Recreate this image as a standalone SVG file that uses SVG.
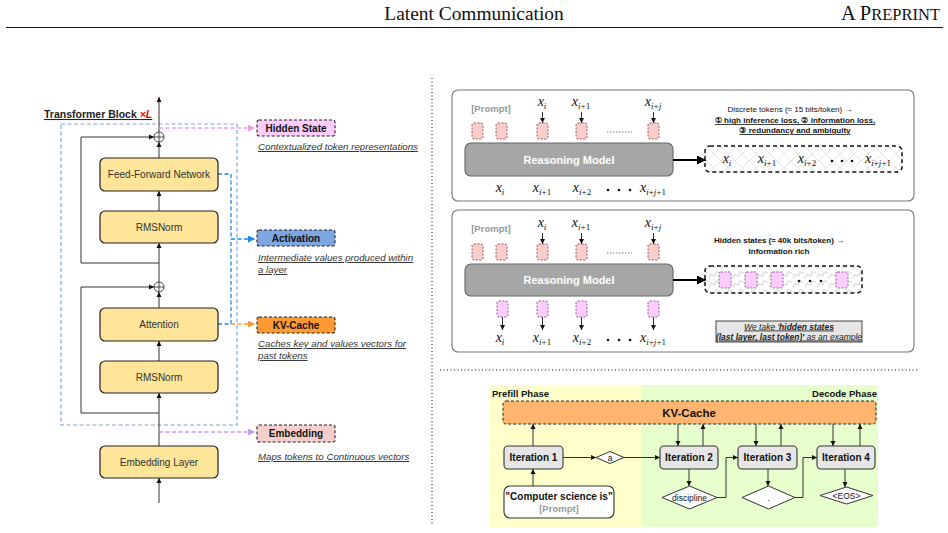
<svg xmlns="http://www.w3.org/2000/svg" width="948" height="533" viewBox="0 0 948 533">
<defs>
<style>
.t{font-family:"Liberation Sans",Arial,sans-serif;}
.b{font-weight:bold;}
.node{fill:#FFE599;stroke:#222;stroke-width:1.2;}
.lbl{font-family:"Liberation Sans",Arial,sans-serif;font-size:10px;fill:#333;text-anchor:middle;}
.tag{stroke:#222;stroke-width:1.1;stroke-dasharray:3 2;}
.tagt{font-family:"Liberation Sans",Arial,sans-serif;font-size:10px;font-weight:bold;fill:#111;text-anchor:middle;}
.desc{font-family:"Liberation Sans",Arial,sans-serif;font-size:9.7px;font-style:italic;fill:#333;text-decoration:underline;}
.ln{fill:none;stroke:#333;stroke-width:1;}
.m{font-family:"Liberation Serif","Times New Roman",serif;font-style:italic;font-size:14px;fill:#111;text-anchor:middle;}
.s{font-size:9px;}
.u{font-style:normal;}
.slot{fill:#F8CECC;stroke:#7a3b38;stroke-width:0.8;stroke-dasharray:2 1.5;}
.hslot{fill:#FFCCFF;stroke:#6b4a6b;stroke-width:0.8;stroke-dasharray:2 1.5;}
.panel{fill:#fff;stroke:#777;stroke-width:1.1;}
.rm{fill:#A6A6A6;stroke:#666;stroke-width:1.1;}
.rmt{font-family:"Liberation Sans",Arial,sans-serif;font-size:11px;font-weight:bold;fill:#fff;text-anchor:middle;}
.it{fill:#E6E6E6;stroke:#333;stroke-width:1.1;}
.itt{font-family:"Liberation Sans",Arial,sans-serif;font-size:10px;font-weight:bold;fill:#111;text-anchor:middle;}
.dia{fill:#fff;stroke:#333;stroke-width:1;}
.dt{font-family:"Liberation Sans",Arial,sans-serif;font-size:8.5px;fill:#111;text-anchor:middle;}
.sep{stroke:#000;stroke-width:1;stroke-dasharray:1 2.5;fill:none;}
</style>
<marker id="ab" markerWidth="6" markerHeight="6" refX="5" refY="3" orient="auto" markerUnits="userSpaceOnUse"><path d="M0,0.5 L5,3 L0,5.5 z" fill="#111"/></marker>
<marker id="abig" markerWidth="10" markerHeight="10" refX="9" refY="4.5" orient="auto" markerUnits="userSpaceOnUse"><path d="M0,0 L9,4.5 L0,9 z" fill="#000"/></marker>
<marker id="apink" markerWidth="8" markerHeight="8" refX="7" refY="3.5" orient="auto" markerUnits="userSpaceOnUse"><path d="M0,0 L7,3.5 L0,7 z" fill="#F39AF3"/></marker>
<marker id="ablue" markerWidth="8" markerHeight="8" refX="7" refY="3.5" orient="auto" markerUnits="userSpaceOnUse"><path d="M0,0 L7,3.5 L0,7 z" fill="#1E88F0"/></marker>
<marker id="aorange" markerWidth="8" markerHeight="8" refX="7" refY="3.5" orient="auto" markerUnits="userSpaceOnUse"><path d="M0,0 L7,3.5 L0,7 z" fill="#FF9933"/></marker>
<marker id="apurple" markerWidth="8" markerHeight="8" refX="7" refY="3.5" orient="auto" markerUnits="userSpaceOnUse"><path d="M0,0 L7,3.5 L0,7 z" fill="#C49BF0"/></marker>
<pattern id="hatch" width="14" height="14" patternUnits="userSpaceOnUse"><path d="M0,0 L14,14 M14,0 L0,14" stroke="#e4e4e4" stroke-width="1"/></pattern>
<pattern id="zig" width="12" height="9" patternUnits="userSpaceOnUse"><path d="M0,6 L3,3 L6,6 L9,3 L12,6" fill="none" stroke="#e2e2e2" stroke-width="1.6" transform="rotate(-25 6 4.5)"/></pattern>
</defs>
<rect width="948" height="533" fill="#fff"/>

<!-- header -->
<g id="header">
<text x="474" y="20" text-anchor="middle" font-family="Liberation Serif,'Times New Roman',serif" font-size="19.4" fill="#111">Latent Communication</text>
<text x="940" y="20" text-anchor="end" font-family="Liberation Serif,'Times New Roman',serif" font-size="20.5" fill="#111">A P<tspan font-size="16.5">REPRINT</tspan></text>
<line x1="6" y1="27.5" x2="943" y2="27.5" stroke="#111" stroke-width="1"/>
</g>

<!-- separators -->
<line class="sep" x1="432" y1="78" x2="432" y2="525"/>
<line class="sep" x1="440" y1="370" x2="918" y2="370"/>

<!-- LEFT: transformer -->
<g id="transformer-block">
<rect x="61" y="124" width="176" height="301" fill="none" stroke="#7EA6E0" stroke-width="1.2" stroke-dasharray="4 2.5"/>
<text x="44" y="118" class="t b" font-size="10.5" fill="#222" text-decoration="underline">Transformer Block <tspan fill="#FF0000" font-style="italic">×L</tspan></text>
</g>

<g id="left-connectors">
<line class="ln" x1="159" y1="503" x2="159" y2="478" marker-end="url(#ab)"/>
<line class="ln" x1="159" y1="446" x2="159" y2="393" marker-end="url(#ab)"/>
<line class="ln" x1="159" y1="361" x2="159" y2="341" marker-end="url(#ab)"/>
<line class="ln" x1="159" y1="308" x2="159" y2="292" marker-end="url(#ab)"/>
<line class="ln" x1="159" y1="282" x2="159" y2="243" marker-end="url(#ab)"/>
<line class="ln" x1="159" y1="211" x2="159" y2="191" marker-end="url(#ab)"/>
<line class="ln" x1="159" y1="158" x2="159" y2="142" marker-end="url(#ab)"/>
<line class="ln" x1="159" y1="132" x2="159" y2="97" marker-end="url(#ab)"/>
<polyline class="ln" points="159,263 81,263 81,137 154,137" marker-end="url(#ab)"/>
<polyline class="ln" points="159,413 81,413 81,287 154,287" marker-end="url(#ab)"/>
<path d="M159,128 H255" fill="none" stroke="#F39AF3" stroke-width="1.3" stroke-dasharray="4 2.5" marker-end="url(#apink)"/>
<path d="M218,174 H231 V239 H255" fill="none" stroke="#1E88F0" stroke-width="1.3" stroke-dasharray="4 2.5" marker-end="url(#ablue)"/>
<path d="M218,324 H231 V239" fill="none" stroke="#1E88F0" stroke-width="1.3" stroke-dasharray="4 2.5"/>
<path d="M231,324 H255" fill="none" stroke="#FF9933" stroke-width="1.3" stroke-dasharray="4 2.5" marker-end="url(#aorange)"/>
<path d="M159,432 H255" fill="none" stroke="#C49BF0" stroke-width="1.3" stroke-dasharray="4 2.5" marker-end="url(#apurple)"/>
</g>

<g id="plus1"><circle cx="159" cy="137" r="5" fill="#fff" stroke="#333" stroke-width="0.9"/><path d="M154,137 H164 M159,132 V142" stroke="#333" stroke-width="0.9"/></g>
<g id="plus2"><circle cx="159" cy="287" r="5" fill="#fff" stroke="#333" stroke-width="0.9"/><path d="M154,287 H164 M159,282 V292" stroke="#333" stroke-width="0.9"/></g>

<g id="ffn"><rect class="node" x="100" y="158" width="118" height="33" rx="5"/><text class="lbl" x="159" y="178">Feed-Forward Network</text></g>
<g id="rmsnorm1"><rect class="node" x="100" y="211" width="118" height="32" rx="5"/><text class="lbl" x="159" y="231">RMSNorm</text></g>
<g id="attention"><rect class="node" x="100" y="308" width="118" height="33" rx="5"/><text class="lbl" x="159" y="328">Attention</text></g>
<g id="rmsnorm2"><rect class="node" x="100" y="361" width="118" height="32" rx="5"/><text class="lbl" x="159" y="381">RMSNorm</text></g>
<g id="embedding-layer"><rect class="node" x="100" y="446" width="118" height="32" rx="5"/><text class="lbl" x="159" y="466">Embedding Layer</text></g>

<g id="hidden-state"><rect class="tag" x="257" y="120" width="78" height="16" rx="2" fill="#FFCCFF"/><text class="tagt" x="296" y="132">Hidden State</text>
<text class="desc" x="258" y="150">Contextualized token representations</text></g>
<g id="activation"><rect class="tag" x="257" y="230" width="78" height="16" rx="2" fill="#7EA6E0"/><text class="tagt" x="296" y="242">Activation</text>
<text class="desc" x="258" y="261">Intermediate values produced within</text><text class="desc" x="258" y="273">a layer</text></g>
<g id="kv-cache"><rect class="tag" x="257" y="317" width="78" height="16" rx="2" fill="#FF9933"/><text class="tagt" x="296" y="329">KV-Cache</text>
<text class="desc" x="258" y="347">Caches key and values vectors for</text><text class="desc" x="258" y="359">past tokens</text></g>
<g id="embedding"><rect class="tag" x="257" y="425" width="78" height="17" rx="2" fill="#F8CECC"/><text class="tagt" x="296" y="437">Embedding</text>
<text class="desc" x="258" y="460">Maps tokens to Continuous vectors</text></g>

<!-- PANEL 1 -->
<g id="panel-discrete">
<rect class="panel" x="452" y="90" width="462" height="111" rx="6"/>
<text x="491" y="112" class="t b" font-size="9.5" fill="#999" text-anchor="middle">[Prompt]</text>
<rect class="slot" x="472" y="123" width="11" height="16" rx="2"/>
<rect class="slot" x="496" y="123" width="11" height="16" rx="2"/>
<rect class="slot" x="537" y="123" width="11" height="16" rx="2"/>
<rect class="slot" x="576" y="123" width="11" height="16" rx="2"/>
<rect class="slot" x="648" y="123" width="11" height="16" rx="2"/>
<line x1="607" y1="132" x2="632" y2="132" stroke="#555" stroke-width="0.8" stroke-dasharray="1.5 1.5"/>
<text class="m" x="542" y="106">x<tspan class="s" dy="3">i</tspan></text>
<text class="m" x="581" y="106">x<tspan class="s" dy="3">i<tspan class="u">+1</tspan></tspan></text>
<text class="m" x="653" y="106">x<tspan class="s" dy="3">i<tspan class="u">+</tspan>j</tspan></text>
<line class="ln" x1="542.5" y1="112" x2="542.5" y2="123" marker-end="url(#ab)"/>
<line class="ln" x1="581.5" y1="112" x2="581.5" y2="123" marker-end="url(#ab)"/>
<line class="ln" x1="653.5" y1="112" x2="653.5" y2="123" marker-end="url(#ab)"/>
<rect class="rm" x="465" y="143" width="208" height="33" rx="6"/>
<text class="rmt" x="569" y="164">Reasoning Model</text>
<text class="m" x="500" y="192">x<tspan class="s" dy="3">i</tspan></text>
<text class="m" x="542" y="192">x<tspan class="s" dy="3">i<tspan class="u">+1</tspan></tspan></text>
<text class="m" x="582" y="192">x<tspan class="s" dy="3">i<tspan class="u">+2</tspan></tspan></text>
<g fill="#111"><circle cx="608" cy="190" r="1.3"/><circle cx="619" cy="190" r="1.3"/><circle cx="630" cy="190" r="1.3"/></g>
<text class="m" x="653" y="192">x<tspan class="s" dy="3">i<tspan class="u">+</tspan>j<tspan class="u">+1</tspan></tspan></text>
<line x1="673" y1="160" x2="706" y2="160" stroke="#000" stroke-width="2" marker-end="url(#abig)"/>
<rect x="705" y="146" width="197" height="26" rx="5" fill="url(#hatch)" stroke="#111" stroke-width="1.5" stroke-dasharray="4 3"/>
<text class="m" x="727" y="163">x<tspan class="s" dy="3">i</tspan></text>
<text class="m" x="767" y="163">x<tspan class="s" dy="3">i<tspan class="u">+1</tspan></tspan></text>
<text class="m" x="807" y="163">x<tspan class="s" dy="3">i<tspan class="u">+2</tspan></tspan></text>
<g fill="#111"><circle cx="832" cy="161" r="1.3"/><circle cx="842" cy="161" r="1.3"/><circle cx="852" cy="161" r="1.3"/></g>
<text class="m" x="878" y="163">x<tspan class="s" dy="3">i<tspan class="u">+</tspan>j<tspan class="u">+1</tspan></tspan></text>
<text x="790" y="112" class="t" font-size="8" fill="#111" text-anchor="middle">Discrete tokens (≈ 15 bits/token) →</text>
<text x="795" y="123" class="t b" font-size="8" fill="#111" text-anchor="middle" text-decoration="underline">① high inference loss, ② information loss,</text>
<text x="795" y="133" class="t b" font-size="8" fill="#111" text-anchor="middle" text-decoration="underline">③ redundancy and ambiguity</text>
</g>

<!-- PANEL 2 -->
<g id="panel-hidden">
<rect class="panel" x="452" y="210" width="462" height="142" rx="6"/>
<text x="491" y="232" class="t b" font-size="9.5" fill="#999" text-anchor="middle">[Prompt]</text>
<rect class="slot" x="472" y="244" width="11" height="16" rx="2"/>
<rect class="slot" x="496" y="244" width="11" height="16" rx="2"/>
<rect class="slot" x="537" y="244" width="11" height="16" rx="2"/>
<rect class="slot" x="576" y="244" width="11" height="16" rx="2"/>
<rect class="slot" x="648" y="244" width="11" height="16" rx="2"/>
<line x1="607" y1="253" x2="632" y2="253" stroke="#555" stroke-width="0.8" stroke-dasharray="1.5 1.5"/>
<text class="m" x="542" y="227">x<tspan class="s" dy="3">i</tspan></text>
<text class="m" x="581" y="227">x<tspan class="s" dy="3">i<tspan class="u">+1</tspan></tspan></text>
<text class="m" x="653" y="227">x<tspan class="s" dy="3">i<tspan class="u">+</tspan>j</tspan></text>
<line class="ln" x1="542.5" y1="233" x2="542.5" y2="244" marker-end="url(#ab)"/>
<line class="ln" x1="581.5" y1="233" x2="581.5" y2="244" marker-end="url(#ab)"/>
<line class="ln" x1="653.5" y1="233" x2="653.5" y2="244" marker-end="url(#ab)"/>
<rect class="rm" x="465" y="264" width="208" height="32" rx="6"/>
<text class="rmt" x="569" y="284">Reasoning Model</text>
<rect class="hslot" x="497" y="301" width="11" height="16" rx="2"/>
<rect class="hslot" x="537" y="301" width="11" height="16" rx="2"/>
<rect class="hslot" x="576" y="301" width="11" height="16" rx="2"/>
<rect class="hslot" x="648" y="301" width="11" height="16" rx="2"/>
<line class="ln" x1="502.5" y1="317" x2="502.5" y2="330" marker-end="url(#ab)"/>
<line class="ln" x1="542.5" y1="317" x2="542.5" y2="330" marker-end="url(#ab)"/>
<line class="ln" x1="581.5" y1="317" x2="581.5" y2="330" marker-end="url(#ab)"/>
<line class="ln" x1="653.5" y1="317" x2="653.5" y2="330" marker-end="url(#ab)"/>
<text class="m" x="500" y="342">x<tspan class="s" dy="3">i</tspan></text>
<text class="m" x="542" y="342">x<tspan class="s" dy="3">i<tspan class="u">+1</tspan></tspan></text>
<text class="m" x="582" y="342">x<tspan class="s" dy="3">i<tspan class="u">+2</tspan></tspan></text>
<g fill="#111"><circle cx="608" cy="340" r="1.3"/><circle cx="619" cy="340" r="1.3"/><circle cx="630" cy="340" r="1.3"/></g>
<text class="m" x="653" y="342">x<tspan class="s" dy="3">i<tspan class="u">+</tspan>j<tspan class="u">+1</tspan></tspan></text>
<line x1="673" y1="280" x2="706" y2="280" stroke="#000" stroke-width="2" marker-end="url(#abig)"/>
<rect x="705" y="266" width="157" height="27" rx="5" fill="url(#zig)" stroke="#111" stroke-width="1.5" stroke-dasharray="4 3"/>
<rect class="hslot" x="719" y="272" width="12" height="16" rx="2"/>
<rect class="hslot" x="745" y="272" width="12" height="16" rx="2"/>
<rect class="hslot" x="771" y="272" width="12" height="16" rx="2"/>
<rect class="hslot" x="836" y="272" width="12" height="16" rx="2"/>
<g fill="#111"><circle cx="799" cy="281" r="1.3"/><circle cx="810" cy="281" r="1.3"/><circle cx="821" cy="281" r="1.3"/></g>
<text x="779" y="243" class="t b" font-size="8" fill="#111" text-anchor="middle">Hidden states (≈ 40k bits/token) →</text>
<text x="779" y="254" class="t b" font-size="8" fill="#111" text-anchor="middle">Information rich</text>
<rect x="716" y="321" width="146" height="21" fill="#E6E6E6" stroke="#333" stroke-width="0.9"/>
<text x="789" y="329.5" class="t" font-size="8.5" font-style="italic" fill="#222" text-anchor="middle" text-decoration="underline">We take '<tspan font-weight="bold">hidden states</tspan></text>
<text x="789" y="339.5" class="t" font-size="8.5" font-style="italic" fill="#222" text-anchor="middle" text-decoration="underline"><tspan font-weight="bold">(last layer, last token)'</tspan> as an example</text>
</g>

<!-- BOTTOM: KV cache panel -->
<g id="kv-panel">
<rect x="490" y="385" width="151" height="142" fill="#FFFFCC"/>
<rect x="641" y="385" width="237" height="142" fill="#E6FFCC"/>
<text x="492" y="397" class="t b" font-size="9.5" fill="#111">Prefill Phase</text>
<text x="877" y="397" class="t b" font-size="9.5" fill="#111" text-anchor="end">Decode Phase</text>
</g>
<g id="kv-cache-bar"><rect x="503" y="401" width="373" height="23" rx="3" fill="#FFB570" stroke="#222" stroke-width="1" stroke-dasharray="3 2"/><text x="689" y="417" class="t b" font-size="11.5" fill="#111" text-anchor="middle">KV-Cache</text></g>

<g id="kv-connectors">
<line class="ln" x1="533" y1="486" x2="533" y2="469" marker-end="url(#ab)"/>
<line class="ln" x1="533" y1="446" x2="533" y2="424" marker-end="url(#ab)"/>
<line class="ln" x1="563" y1="457.5" x2="596" y2="457.5" marker-end="url(#ab)"/>
<line class="ln" x1="624" y1="457.5" x2="660" y2="457.5" marker-end="url(#ab)"/>
<line class="ln" x1="678" y1="424" x2="678" y2="446" marker-end="url(#ab)"/>
<line class="ln" x1="703" y1="446" x2="703" y2="424" marker-end="url(#ab)"/>
<line class="ln" x1="689" y1="469" x2="689" y2="486" marker-end="url(#ab)"/>
<polyline class="ln" points="717,497.5 726,497.5 726,457.5 738,457.5" marker-end="url(#ab)"/>
<line class="ln" x1="756" y1="424" x2="756" y2="446" marker-end="url(#ab)"/>
<line class="ln" x1="781" y1="446" x2="781" y2="424" marker-end="url(#ab)"/>
<line class="ln" x1="768" y1="469" x2="768" y2="486" marker-end="url(#ab)"/>
<polyline class="ln" points="795,497.5 803,497.5 803,457.5 817,457.5" marker-end="url(#ab)"/>
<line class="ln" x1="833" y1="424" x2="833" y2="446" marker-end="url(#ab)"/>
<line class="ln" x1="860" y1="446" x2="860" y2="424" marker-end="url(#ab)"/>
<line class="ln" x1="845" y1="469" x2="845" y2="487" marker-end="url(#ab)"/>
</g>

<g id="iter1"><rect class="it" x="504" y="446" width="59" height="23" rx="4"/><text class="itt" x="533.5" y="461">Iteration 1</text></g>
<g id="iter2"><rect class="it" x="660" y="446" width="58" height="23" rx="4"/><text class="itt" x="689" y="461">Iteration 2</text></g>
<g id="iter3"><rect class="it" x="738" y="446" width="59" height="23" rx="4"/><text class="itt" x="767.5" y="461">Iteration 3</text></g>
<g id="iter4"><rect class="it" x="817" y="446" width="58" height="23" rx="4"/><text class="itt" x="846" y="461">Iteration 4</text></g>
<g id="prompt"><rect x="504" y="486" width="110" height="32" rx="6" fill="#fff" stroke="#333" stroke-width="1.1"/>
<text class="itt" x="559" y="500">"Computer science is"</text>
<text x="559" y="512" class="t b" font-size="9.5" fill="#999" text-anchor="middle">[Prompt]</text></g>
<g id="tok-a"><polygon class="dia" points="596,457.5 610,451.5 624,457.5 610,463.5"/><text class="dt" x="610" y="460.5">a</text></g>
<g id="tok-discipline"><polygon class="dia" points="662,497.5 689.5,486 717,497.5 689.5,509"/><text class="dt" x="689.5" y="500.5">discipline</text></g>
<g id="tok-dot"><polygon class="dia" points="742,497.5 768.5,486 795,497.5 768.5,509"/><text class="dt" x="768.5" y="500.5">.</text></g>
<g id="tok-eos"><polygon class="dia" points="820,495.5 846.5,487 873,495.5 846.5,504"/><text class="dt" x="846.5" y="498.5">&lt;EOS&gt;</text></g>
</svg>
